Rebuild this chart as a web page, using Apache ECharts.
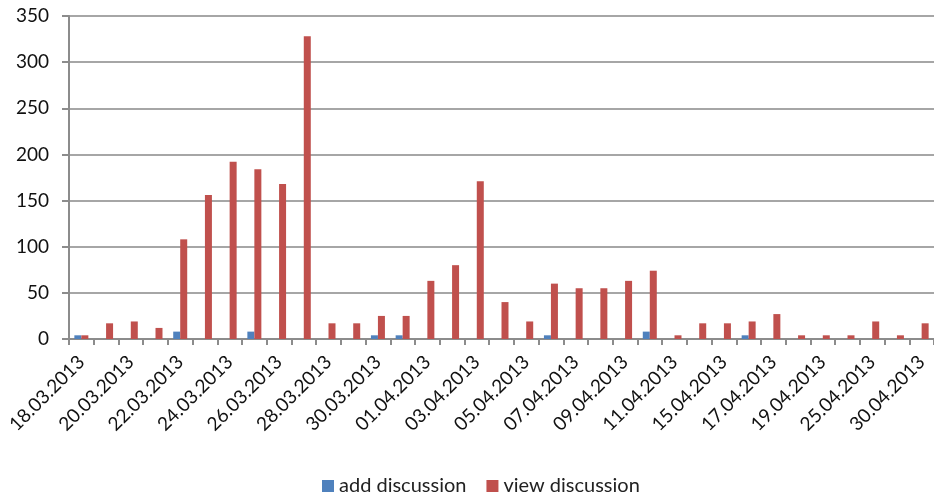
<!DOCTYPE html>
<html>
<head>
<meta charset="utf-8">
<script src="https://cdn.jsdelivr.net/npm/echarts@6/dist/echarts.min.js"></script>
<style>
  html, body { margin: 0; padding: 0; background: #fff; }
  #chart { width: 934px; height: 493px; }
</style>
</head>
<body>
<div id="chart"></div>
<script>
var dates = ['18.03.2013', '19.03.2013', '20.03.2013', '21.03.2013', '22.03.2013', '23.03.2013',
    '24.03.2013', '25.03.2013', '26.03.2013', '27.03.2013', '28.03.2013', '29.03.2013',
    '30.03.2013', '31.03.2013', '01.04.2013', '02.04.2013', '03.04.2013', '04.04.2013',
    '05.04.2013', '06.04.2013', '07.04.2013', '08.04.2013', '09.04.2013', '10.04.2013',
    '11.04.2013', '12.04.2013', '15.04.2013', '16.04.2013', '17.04.2013', '18.04.2013',
    '19.04.2013', '22.04.2013', '25.04.2013', '27.04.2013', '30.04.2013'];
var addDiscussion = [4, 0, 0, 0, 8, 0, 0, 8, 0, 0, 0, 0, 4, 4, 0, 0, 0, 0,
    0, 4, 0, 0, 0, 8, 0, 0, 0, 4, 0, 0, 0, 0, 0, 0, 0];
var viewDiscussion = [4, 17, 19, 12, 108, 156, 192, 184, 168, 328, 17, 17, 25, 25, 63, 80, 171, 40,
    19, 60, 55, 55, 63, 74, 4, 17, 17, 19, 27, 4, 4, 4, 19, 4, 17];
var yTicks = { min: 0, max: 350, interval: 50 };

var myChart = echarts.init(document.getElementById('chart'));

// excel-like look
var font = 'Lato, "Open Sans", sans-serif';
var option = {
    animation: false,
    textStyle: { fontFamily: font },
    grid: { left: 69, right: 0, top: 16, bottom: 154, containLabel: false },
    legend: {
        top: 471,
        left: 317,
        itemWidth: 12,
        itemHeight: 12,
        itemGap: 20,
        icon: 'rect',
        textStyle: { fontSize: 20, color: '#222', fontFamily: font },
        data: ['add discussion', 'view discussion']
    },
    xAxis: {
        type: 'category',
        data: dates,
        boundaryGap: true,
        axisLine: { lineStyle: { color: '#8c8c8c', width: 2 } },
        axisTick: { show: true, interval: 0, length: 6, lineStyle: { color: '#8c8c8c', width: 2 } },
        axisLabel: {
            interval: 1,
            rotate: 45,
            fontSize: 19,
            color: '#111',
            margin: 20,
            fontFamily: font
        }
    },
    yAxis: {
        type: 'value',
        min: yTicks.min,
        max: yTicks.max,
        interval: yTicks.interval,
        axisLine: { show: true, lineStyle: { color: '#8c8c8c', width: 2 } },
        axisTick: { show: true, length: 7, lineStyle: { color: '#8c8c8c', width: 2 } },
        splitLine: { lineStyle: { color: '#a6a6a6', width: 2 } },
        axisLabel: { fontSize: 19, color: '#111', margin: 20, fontFamily: font }
    },
    series: [
        {
            name: 'add discussion',
            type: 'bar',
            data: addDiscussion,
            barWidth: 7,
            barGap: '0%',
            itemStyle: { color: '#4f81bd' }
        },
        {
            name: 'view discussion',
            type: 'bar',
            data: viewDiscussion,
            barWidth: 7,
            barGap: '0%',
            itemStyle: { color: '#c0504d' }
        }
    ]
};

myChart.setOption(option);
</script>
</body>
</html>
